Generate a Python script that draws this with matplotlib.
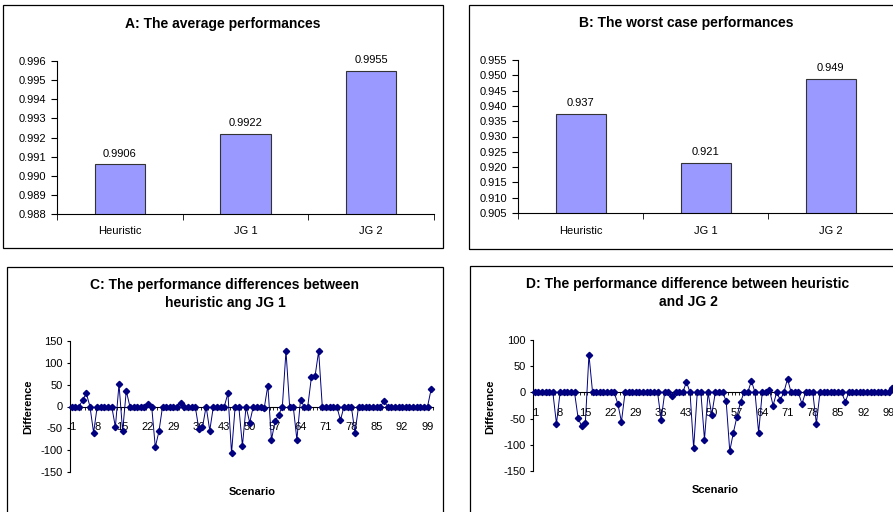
import numpy as np
import matplotlib
matplotlib.use("Agg")
import matplotlib.pyplot as plt
from matplotlib.patches import Rectangle

plt.rcParams['font.family'] = ['Liberation Sans', 'DejaVu Sans']
plt.rcParams['axes.unicode_minus'] = False

# bar data
methods = ["Heuristic", "JG 1", "JG 2"]
avg_perf = [0.9906, 0.9922, 0.9955]
worst_perf = [0.9374, 0.9214, 0.9488]

# per-scenario differences
scenario = np.arange(1, 101)
diff_jg1 = [0, 0, 0, 15, 30, 0, -60, 0, 0, 0,
            0, 0, -47, 51, -57, 36, 0, 0, 0, 0,
            0, 5, 0, -93, -57, 0, 0, 0, 0, 0,
            9, 0, 0, 0, 0, -52, -47, 0, -55, 0,
            0, 0, 0, 30, -107, 0, 0, -90, 0, -37,
            0, 0, 0, -4, 48, -76, -34, -19, 0, 127,
            0, 0, -76, 15, 0, 0, 67, 69, 127, 0,
            0, 0, 0, 0, -31, 0, 0, 0, -60, 0,
            0, 0, 0, 0, 0, 0, 12, 0, 0, 0,
            0, 0, 0, 0, 0, 0, 0, 0, 0, 40]
diff_jg2 = [0, 0, 0, 0, 0, 0, -60, 0, 0, 0,
            0, 0, -49, -65, -58, 72, 0, 0, 0, 0,
            0, 0, 0, -22, -56, 0, 0, 0, 0, 0,
            0, 0, 0, 0, 0, -52, 0, 0, -6, 0,
            0, 0, 20, 0, -107, 0, 0, -90, 0, -43,
            0, 0, 0, -16, -112, -77, -46, -18, 0, 0,
            22, 0, -77, 0, 0, 5, -25, 0, -14, 0,
            26, 0, 0, 0, -22, 0, 0, 0, -60, 0,
            0, 0, 0, 0, 0, 0, -18, 0, 0, 0,
            0, 0, 0, 0, 0, 0, 0, 0, 0, 8]

W, H = 893, 512
fig = plt.figure(figsize=(W / 100, H / 100), dpi=100)


def px_axes(l, t, r, b):
    return fig.add_axes([l / W, 1 - b / H, (r - l) / W, (b - t) / H])


def px_box(l, t, r, b):
    fig.add_artist(Rectangle((l / W, 1 - b / H), (r - l) / W, (b - t) / H,
                             transform=fig.transFigure, fill=False,
                             edgecolor="black", lw=0.9))


def fig_text(x, y, s, **kw):
    fig.text(x / W, 1 - y / H, s, ha="center", va="center", **kw)


def bar_panel(ax, vals, lo, hi, step, fmt):
    x = np.arange(len(methods))
    ax.bar(x, vals, width=0.4, color="#9999ff", edgecolor="#333333", lw=0.8)
    for xi, v in zip(x, vals):
        ax.annotate(fmt % v, (xi, v), xytext=(0, 4), textcoords="offset points",
                    ha="center", va="bottom", fontsize=8)
    ticks = np.arange(lo, hi + step / 2, step)
    ax.set_xlim(-0.5, 2.5)
    ax.set_ylim(lo, hi)
    ax.set_yticks(ticks)
    ax.set_yticklabels(["%.3f" % t for t in ticks])
    ax.set_xticks(x)
    ax.set_xticklabels(methods)
    ax.set_xticks([-0.5, 0.5, 1.5, 2.5], minor=True)
    ax.tick_params(axis="x", which="major", length=0, pad=9, labelsize=8)
    ax.tick_params(axis="x", which="minor", length=4, direction="out")
    ax.tick_params(axis="y", length=4, direction="out", pad=4, labelsize=8)
    for s in ["top", "right"]:
        ax.spines[s].set_visible(False)
    ax.set_facecolor("none")


def line_panel(ax, vals, lo, hi):
    ax.plot(scenario, vals, color="#000080", lw=0.7, marker="D",
            markersize=3.2, zorder=3, clip_on=False)
    ax.set_xlim(0.5, 100.5)
    ax.set_ylim(lo, hi)
    ax.set_yticks(np.arange(lo, hi + 1, 50))
    ax.spines["bottom"].set_position(("data", 0))
    for s in ["top", "right"]:
        ax.spines[s].set_visible(False)
    ax.set_xticks(np.arange(1, 101, 7))
    ax.set_xticks(np.arange(0.5, 101, 1), minor=True)
    ax.tick_params(axis="x", which="major", length=0, pad=11, labelsize=8)
    ax.tick_params(axis="x", which="minor", length=2.5, direction="out", width=0.6)
    ax.tick_params(axis="y", length=2.5, direction="out", pad=3, labelsize=8)
    ax.set_facecolor("none")


# frames
px_box(3, 5, 443, 248)
px_box(469, 5, 912, 249)
px_box(7, 267, 443, 530)
px_box(470, 266, 912, 530)

# A
axA = px_axes(57, 61, 434, 214)
bar_panel(axA, avg_perf, 0.988, 0.996, 0.001, "%.4f")
fig_text(223, 24, "A: The average performances", fontsize=10, fontweight="bold")

# B
axB = px_axes(518, 60, 893, 213)
bar_panel(axB, worst_perf, 0.905, 0.955, 0.005, "%.3f")
fig_text(686, 23, "B: The worst case performances", fontsize=10, fontweight="bold")

# C
axC = px_axes(70, 341, 433, 472)
line_panel(axC, diff_jg1, -150, 150)
fig_text(225, 294, "C: The performance differences between\nheuristic ang JG 1",
         fontsize=10, fontweight="bold", linespacing=1.3)
fig_text(28, 407, "Difference", fontsize=8, fontweight="bold", rotation=90)
fig_text(252, 492, "Scenario", fontsize=8, fontweight="bold")

# D
axD = px_axes(533, 340, 894, 471)
line_panel(axD, diff_jg2, -150, 100)
fig_text(688, 293, "D: The performance difference between heuristic\nand JG 2",
         fontsize=10, fontweight="bold", linespacing=1.3)
fig_text(490, 407, "Difference", fontsize=8, fontweight="bold", rotation=90)
fig_text(715, 490, "Scenario", fontsize=8, fontweight="bold")

fig.savefig("out.png", dpi=100, facecolor="white")
